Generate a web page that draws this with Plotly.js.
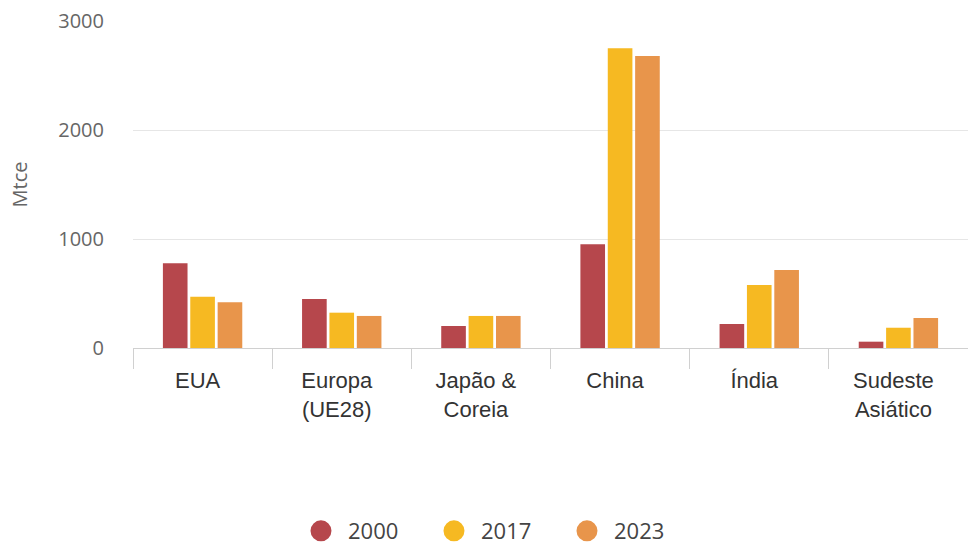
<!DOCTYPE html>
<html>
<head>
<meta charset="utf-8">
<script src="https://cdn.plot.ly/plotly-3.0.1.min.js"></script>
<style>html,body{margin:0;padding:0;background:#fff;}#chart{width:968px;height:552px;}</style>
</head>
<body>
<div id="chart"></div>
<script>
const categories = ["EUA", "Europa<br>(UE28)", "Japão &<br>Coreia", "China", "Índia", "Sudeste<br>Asiático"];
const years = ["2000", "2017", "2023"];
const values2000 = [777, 450, 202, 951, 220, 58];
const values2017 = [471, 324, 294, 2750, 578, 186];
const values2023 = [419, 294, 294, 2680, 716, 275];
const colors = ["#b6474c", "#f6b922", "#e8954b"];
const yTicks = [0, 1000, 2000, 3000];

const series = [values2000, values2017, values2023];
const traces = [];
series.forEach((vals, i) => {
  traces.push({
    type: "bar", x: categories, y: vals, name: years[i],
    marker: {color: colors[i]}, showlegend: false, hoverinfo: "x+y"
  });
});
series.forEach((vals, i) => {
  traces.push({
    type: "scatter", mode: "markers", x: [null], y: [null], name: years[i],
    marker: {color: colors[i], size: 16, symbol: "circle", line: {color: colors[i], width: 5}},
    showlegend: true
  });
});

const layout = {
  width: 968, height: 552,
  margin: {l: 133, r: 0, t: 21, b: 204},
  paper_bgcolor: "#fff", plot_bgcolor: "#fff",
  barmode: "group", bargap: 0.41, bargroupgap: 0.1,
  font: {family: "Open Sans, sans-serif", color: "#666"},
  xaxis: {
    type: "category", tickson: "boundaries", ticks: "outside", ticklen: 20,
    tickcolor: "#d0d0d0", showline: true, linecolor: "#d0d0d0", showgrid: false,
    ticklabelstandoff: 13, ticklabelshift: -5,
    tickfont: {family: "Liberation Sans, Arial, sans-serif", size: 22, color: "#333"},
    fixedrange: true
  },
  yaxis: {
    range: [0, 3000], tickvals: yTicks, ticktext: yTicks.map(String),
    showgrid: true, gridcolor: "#e6e6e6", zeroline: false, showline: false,
    ticks: "", ticklabelstandoff: 28,
    tickfont: {family: "Open Sans, sans-serif", size: 20, color: "#666"},
    title: {text: "Mtce", font: {family: "Open Sans, sans-serif", size: 20, color: "#666"}, standoff: 25},
    fixedrange: true
  },
  legend: {
    orientation: "h", xref: "container", yref: "container",
    x: 0.3037, xanchor: "left", y: 0.038, yanchor: "middle",
    entrywidth: 74, entrywidthmode: "pixels", itemwidth: 44,
    font: {family: "Open Sans, sans-serif", size: 22, color: "#444"},
    itemsizing: "trace"
  },
  showlegend: true
};

Plotly.newPlot("chart", traces, layout, {displayModeBar: false, staticPlot: true});
</script>
</body>
</html>
